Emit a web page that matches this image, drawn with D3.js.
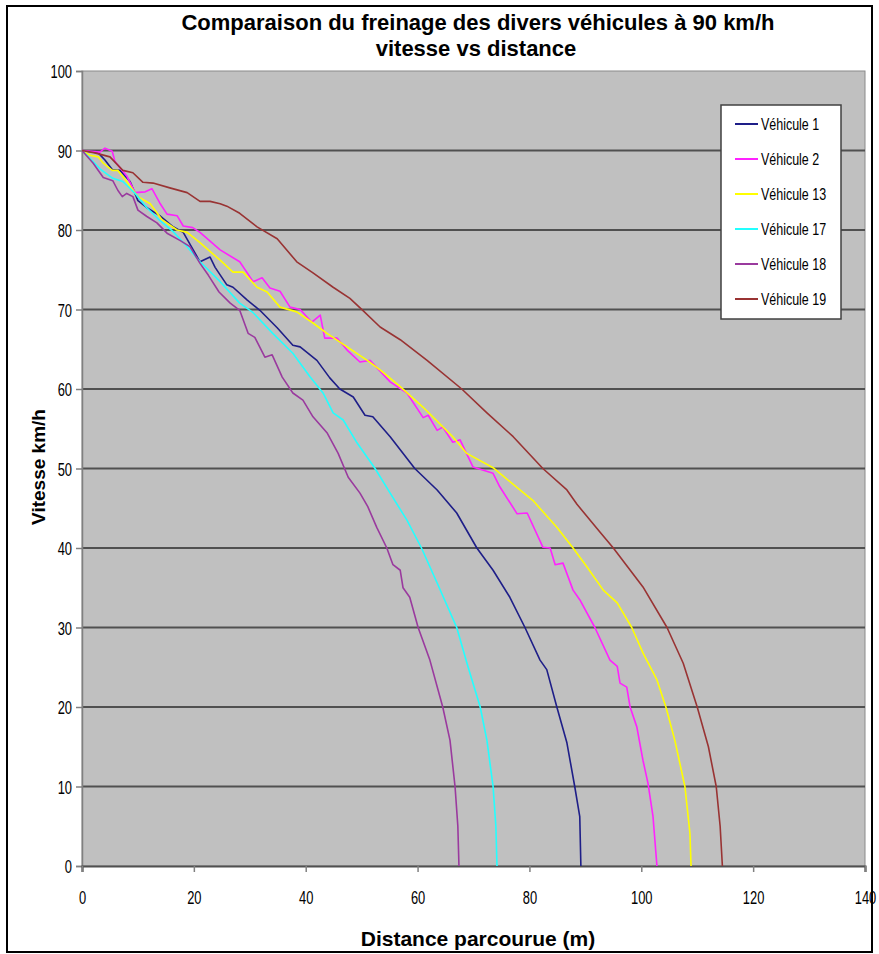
<!DOCTYPE html>
<html><head><meta charset="utf-8">
<script src="https://cdn.jsdelivr.net/npm/d3@7"></script>
<style>
html,body{margin:0;padding:0;background:#fff;}
svg{display:block;}
.tick text{font-family:"Liberation Sans",Arial,sans-serif;font-size:19px;fill:#000;}
</style></head>
<body>
<svg id="chart" width="879" height="954"></svg>
<script>
const title1 = "Comparaison du freinage des divers véhicules à 90 km/h";
const title2 = "vitesse vs distance";
const xTitle = "Distance parcourue (m)";
const yTitle = "Vitesse km/h";
const xTicks = [0, 20, 40, 60, 80, 100, 120, 140];
const yTicks = [0, 10, 20, 30, 40, 50, 60, 70, 80, 90, 100];
const seriesNames = ["Véhicule 1", "Véhicule 2", "Véhicule 13", "Véhicule 17", "Véhicule 18", "Véhicule 19"];
const seriesColors = ["#1e1e88", "#ff22ff", "#ffff00", "#22ffff", "#9a3a9e", "#993333"];

const v1_d = [0, 2.9, 4.1, 5.4, 6.8, 8.6, 10.0, 11.6, 13.9, 16.3, 18.1, 21.1, 22.9, 23.8, 25.9, 27.0, 29.5, 31.8, 34.9, 37.7, 39.0, 42.0, 44.3, 46.1, 48.5, 50.6, 52.0, 55.1, 59.5, 63.5, 67.0, 70.6, 73.5, 76.5, 79.2, 81.9, 83.1, 84.9, 86.7, 88.1, 89.0, 89.2];
const v1_v = [90, 89.7, 88.8, 87.6, 87.5, 86.1, 83.7, 82.8, 81.8, 80.4, 79.7, 76.0, 76.6, 75.3, 73.1, 72.8, 71.2, 69.9, 67.7, 65.5, 65.3, 63.6, 61.4, 60.0, 59.0, 56.7, 56.5, 54.0, 50.0, 47.3, 44.4, 40.0, 37.2, 33.8, 30.0, 25.9, 24.7, 20.0, 15.5, 10.0, 6.2, 0];

const v2_d = [0, 3.2, 4.1, 5.4, 5.9, 8.0, 9.5, 11.3, 12.5, 13.9, 15.2, 17.0, 18.1, 19.8, 21.1, 24.7, 28.2, 30.6, 32.2, 33.6, 35.4, 37.2, 39.0, 41.1, 42.6, 43.4, 45.6, 47.4, 49.7, 51.5, 55.1, 58.1, 61.0, 61.9, 63.5, 64.5, 66.3, 67.6, 69.9, 73.5, 74.7, 77.8, 79.6, 82.4, 83.7, 84.6, 86.0, 87.8, 89.0, 91.7, 94.4, 95.7, 96.2, 97.4, 98.0, 99.2, 100.3, 101.2, 102.1, 102.8];
const v2_v = [90, 89.8, 90.3, 89.9, 88.6, 86.8, 84.7, 84.8, 85.2, 83.4, 82.0, 81.8, 80.5, 80.3, 79.7, 77.5, 76.0, 73.5, 74.0, 72.7, 72.3, 70.3, 70.0, 68.4, 69.3, 66.4, 66.4, 64.9, 63.4, 63.6, 60.9, 59.5, 56.4, 56.7, 54.8, 55.2, 53.3, 53.6, 50.2, 49.4, 47.7, 44.3, 44.4, 40.1, 40.0, 37.9, 38.1, 34.7, 33.5, 30.0, 25.9, 25.1, 23.0, 22.5, 20.0, 17.5, 13.3, 10.4, 6.2, 0];

const v13_d = [0, 1.4, 2.9, 3.8, 5.4, 6.4, 8.0, 10.0, 12.2, 14.3, 17.0, 18.8, 21.1, 24.7, 27.0, 28.8, 31.3, 33.1, 35.4, 38.4, 41.3, 43.8, 47.4, 51.0, 53.3, 56.9, 61.0, 66.3, 68.8, 73.5, 78.3, 80.6, 84.9, 87.8, 90.3, 93.2, 95.7, 98.3, 100.3, 102.8, 104.4, 106.0, 107.8, 108.7, 108.9];
const v13_v = [90, 89.4, 89.2, 88.4, 87.5, 87.5, 86.1, 84.2, 83.3, 81.3, 80.0, 79.7, 78.4, 76.2, 74.7, 74.7, 72.8, 72.2, 70.3, 69.7, 68.3, 67.0, 65.3, 63.6, 62.4, 60.3, 57.7, 54.0, 51.9, 50.1, 47.3, 46.0, 42.6, 40.0, 37.6, 34.7, 33.1, 30.0, 26.8, 23.4, 20.0, 15.8, 10.0, 4.1, 0];

const v17_d = [0, 0.9, 3.2, 5.5, 7.3, 9.5, 11.6, 13.9, 16.3, 18.8, 21.1, 24.7, 28.2, 30.6, 34.1, 37.7, 40.8, 43.1, 44.9, 46.7, 49.2, 52.4, 55.1, 58.1, 60.7, 63.5, 67.0, 69.0, 71.2, 72.4, 73.5, 74.0, 74.2];
const v17_v = [90, 89.4, 87.7, 86.5, 86.1, 84.6, 82.8, 81.2, 79.8, 77.9, 76.0, 73.5, 70.8, 69.6, 67.0, 64.5, 61.5, 59.5, 57.0, 56.1, 53.2, 50.0, 46.9, 43.5, 40.0, 35.6, 30.0, 25.1, 20.0, 15.8, 10.0, 5.0, 0];

const v18_d = [0, 2.0, 3.8, 5.5, 6.4, 7.2, 8.0, 9.1, 10.0, 11.6, 13.4, 15.2, 17.5, 19.3, 21.1, 22.6, 24.5, 26.5, 28.2, 29.7, 30.9, 32.7, 34.0, 35.8, 37.7, 39.5, 41.3, 43.8, 45.8, 47.6, 49.7, 51.1, 52.7, 54.5, 55.6, 56.9, 57.4, 58.6, 60.1, 62.2, 64.5, 65.8, 66.7, 67.2, 67.4];
const v18_v = [90, 88.4, 86.6, 86.2, 85.0, 84.2, 84.6, 84.2, 82.5, 81.7, 80.9, 79.6, 78.7, 77.9, 75.8, 74.3, 72.2, 70.8, 69.9, 67.0, 66.5, 64.0, 64.3, 61.5, 59.5, 58.6, 56.5, 54.5, 51.9, 48.9, 46.9, 45.2, 42.6, 40.0, 37.9, 37.2, 35.0, 33.8, 30.0, 25.9, 20.0, 15.8, 10.0, 5.0, 0];

const v19_d = [0, 2.3, 5.0, 7.3, 9.1, 10.9, 12.7, 15.7, 18.8, 21.1, 22.9, 24.7, 25.9, 28.2, 31.3, 34.9, 38.4, 41.3, 44.9, 47.9, 50.2, 53.3, 56.9, 61.7, 67.9, 72.4, 77.1, 82.4, 86.7, 88.5, 92.6, 95.0, 100.3, 104.6, 107.5, 110.0, 112.0, 113.4, 114.1, 114.5];
const v19_v = [90, 89.7, 89.2, 87.5, 87.2, 86.0, 85.9, 85.3, 84.7, 83.6, 83.6, 83.3, 83.0, 82.1, 80.4, 78.9, 76.0, 74.6, 72.8, 71.4, 69.9, 67.8, 66.2, 63.6, 60.0, 57.0, 54.0, 50.0, 47.3, 45.5, 42.0, 40.0, 35.1, 30.0, 25.5, 20.0, 15.0, 10.0, 5.0, 0];

const seriesD = [v1_d, v2_d, v13_d, v17_d, v18_d, v19_d];
const seriesV = [v1_v, v2_v, v13_v, v17_v, v18_v, v19_v];

const svg = d3.select("#chart");
const L = 82, R = 865, T = 71, B = 866;
const x = d3.scaleLinear().domain([0, 140]).range([L, R]);
const y = d3.scaleLinear().domain([0, 100]).range([B, T]);

// outer frame
svg.append("rect").attr("x", 7).attr("y", 6).attr("width", 865).attr("height", 946)
  .attr("fill", "#fff").attr("stroke", "#000").attr("stroke-width", 2);

// plot area
svg.append("rect").attr("x", L).attr("y", T).attr("width", R - L).attr("height", B - T)
  .attr("fill", "#c0c0c0").attr("stroke", "#8a8a8a").attr("stroke-width", 1);

// gridlines
svg.append("g").selectAll("line").data(yTicks.filter(v => v > 0 && v < 100)).join("line")
  .attr("x1", L).attr("x2", R).attr("y1", d => y(d)).attr("y2", d => y(d))
  .attr("stroke", "#505050").attr("stroke-width", 2.2);

// axes
const sx = 0.68;
const yAxis = svg.append("g").attr("transform", `translate(${L},0)`)
  .call(d3.axisLeft(y).tickValues(yTicks).tickSize(6).tickPadding(4).tickFormat(d3.format("d")));
yAxis.select(".domain").attr("stroke", "#808080").attr("stroke-width", 1.5);
yAxis.selectAll(".tick line").attr("stroke", "#808080").attr("stroke-width", 1.5);
yAxis.selectAll(".tick text").attr("x", -10 / sx).attr("dy", "0.36em").attr("transform", `scale(${sx},1)`);

const xAxis = svg.append("g").attr("transform", `translate(0,${B})`)
  .call(d3.axisBottom(x).tickValues(xTicks).tickSize(6).tickPadding(19).tickFormat(d3.format("d")));
xAxis.select(".domain").attr("stroke", "#505050").attr("stroke-width", 2.2);
xAxis.selectAll(".tick line").attr("stroke", "#808080").attr("stroke-width", 1.5);
xAxis.selectAll(".tick text").attr("x", 0).attr("transform", function() {
  const p = d3.select(this.parentNode).attr("transform");
  return `scale(${sx},1)`;
});

// lines
const line = d3.line().x(p => x(p[0])).y(p => y(p[1]));
seriesNames.forEach((name, i) => {
  const pts = seriesD[i].map((d, j) => [d, seriesV[i][j]]);
  svg.append("path").datum(pts).attr("d", line)
    .attr("fill", "none").attr("stroke", seriesColors[i]).attr("stroke-width", 1.6)
    .attr("stroke-linejoin", "round");
});

// legend
const lg = svg.append("g");
const ls = 0.78;
lg.append("rect").attr("x", 721).attr("y", 105).attr("width", 120).attr("height", 214)
  .attr("fill", "#fff").attr("stroke", "#404040").attr("stroke-width", 1.5);
seriesNames.forEach((name, i) => {
  const yy = 124 + i * 35;
  lg.append("line").attr("x1", 735).attr("x2", 758).attr("y1", yy).attr("y2", yy)
    .attr("stroke", seriesColors[i]).attr("stroke-width", 2);
  lg.append("text").attr("x", 761 / ls).attr("y", yy).attr("dy", "0.36em")
    .attr("transform", `scale(${ls},1)`)
    .style("font-family", '"Liberation Sans",Arial,sans-serif')
    .style("font-size", "16px").text(name);
});

// titles
const bold = '"Liberation Sans",Arial,sans-serif';
svg.append("text").attr("x", 478).attr("y", 30).attr("text-anchor", "middle")
  .style("font-family", bold).style("font-weight", "bold").style("font-size", "22px").text(title1);
svg.append("text").attr("x", 476).attr("y", 56).attr("text-anchor", "middle")
  .style("font-family", bold).style("font-weight", "bold").style("font-size", "22px").text(title2);
svg.append("text").attr("x", 478).attr("y", 946).attr("text-anchor", "middle")
  .style("font-family", bold).style("font-weight", "bold").style("font-size", "21px").text(xTitle);
svg.append("text").attr("transform", "translate(45,467) rotate(-90)").attr("text-anchor", "middle")
  .style("font-family", bold).style("font-weight", "bold").style("font-size", "19px").text(yTitle);
</script>
</body></html>
